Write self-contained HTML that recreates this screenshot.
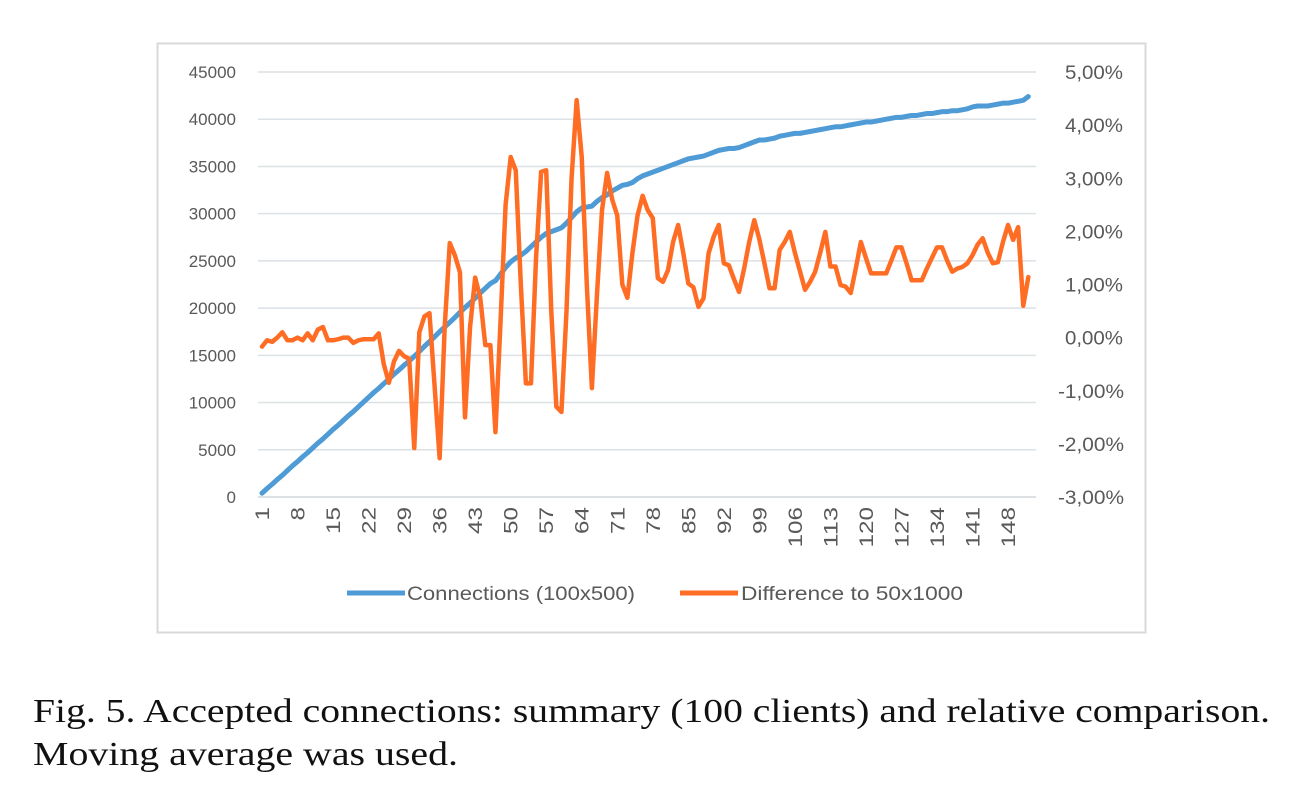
<!DOCTYPE html>
<html><head><meta charset="utf-8"><style>
body{margin:0;background:#fff;width:1298px;height:801px;overflow:hidden}
svg{display:block}
</style></head><body>
<svg width="1298" height="801" font-family="'Liberation Sans', sans-serif">
<rect x="157.5" y="43.5" width="988" height="589" fill="#fff" stroke="#d9d9d9" stroke-width="2"/>
<g id="grid"></g>
<g id="yl"></g>
<g id="yr"></g>
<g id="xl"></g>
<g id="series"></g>
<g>
<g>
<line x1="347" y1="593" x2="405" y2="593" stroke="#4e9bd6" stroke-width="5"/>
<text x="407" y="600" font-size="19" fill="#595959" textLength="228" lengthAdjust="spacingAndGlyphs">Connections (100x500)</text></g>
<g>
<line x1="680" y1="593" x2="738" y2="593" stroke="#ff6d24" stroke-width="5"/>
<text x="741" y="600" font-size="19" fill="#595959" textLength="222" lengthAdjust="spacingAndGlyphs">Difference to 50x1000</text></g>
</g>
<text x="33" y="722" font-family="'Liberation Serif', serif" font-size="34" fill="#111" textLength="1237" lengthAdjust="spacingAndGlyphs">Fig. 5.  Accepted connections: summary (100 clients) and relative comparison.</text>
<text x="33" y="765" font-family="'Liberation Serif', serif" font-size="34" fill="#111" textLength="425" lengthAdjust="spacingAndGlyphs">Moving average was used.</text>
</svg>
<script>
const connections=[400,900,1350,1850,2300,2800,3300,3750,4250,4700,
5200,5700,6150,6650,7150,7600,8100,8600,9050,9550,
10050,10550,11050,11500,12000,12500,13000,13450,13950,14400,
14900,15400,15950,16450,16950,17500,18000,18500,19000,19550,
20050,20550,21050,21600,22100,22600,22900,23600,24300,24900,
25300,25600,26000,26500,27000,27500,27900,28100,28300,28500,
29000,29600,30200,30600,30700,30800,31300,31700,32000,32400,
32700,33000,33100,33300,33700,34000,34200,34400,34600,34800,
35000,35200,35400,35600,35800,35900,36000,36100,36300,36500,
36700,36800,36900,36900,37000,37200,37400,37600,37800,37800,
37900,38000,38200,38300,38400,38500,38500,38600,38700,38800,
38900,39000,39100,39200,39200,39300,39400,39500,39600,39700,
39700,39800,39900,40000,40100,40200,40200,40300,40400,40400,
40500,40600,40600,40700,40800,40800,40900,40900,41000,41100,
41300,41400,41400,41400,41500,41600,41700,41700,41800,41900,
42000,42400];
const difference=[-0.17,-0.05,-0.08,0.0,0.1,-0.05,-0.05,0.0,-0.05,0.08,
-0.05,0.15,0.2,-0.05,-0.05,-0.03,0.0,0.0,-0.1,-0.05,
-0.03,-0.03,-0.03,0.08,-0.5,-0.85,-0.45,-0.25,-0.35,-0.4,
-2.08,0.1,0.4,0.46,-0.9,-2.27,0.2,1.78,1.55,1.23,
-1.5,0.2,1.13,0.75,-0.14,-0.14,-1.78,0.3,2.5,3.4,
3.15,1.0,-0.86,-0.86,1.5,3.12,3.15,0.5,-1.3,-1.4,
0.5,3.0,4.47,3.4,1.0,-0.95,0.8,2.4,3.1,2.6,
2.3,1.0,0.75,1.6,2.3,2.67,2.4,2.25,1.12,1.05,
1.27,1.8,2.12,1.6,1.02,0.95,0.58,0.74,1.59,1.9,
2.12,1.4,1.36,1.1,0.86,1.3,1.8,2.21,1.85,1.4,
0.93,0.93,1.65,1.8,1.99,1.6,1.25,0.9,1.05,1.24,
1.6,1.99,1.34,1.34,0.99,0.96,0.84,1.3,1.8,1.5,
1.21,1.21,1.21,1.21,1.45,1.7,1.7,1.4,1.08,1.08,
1.08,1.3,1.5,1.7,1.7,1.45,1.24,1.3,1.33,1.4,
1.55,1.75,1.87,1.6,1.4,1.42,1.8,2.12,1.84,2.08,
0.6,1.14];
const leftTicks=[0,5000,10000,15000,20000,25000,30000,35000,40000,45000];
const rightTickLabels=["-3,00%","-2,00%","-1,00%","0,00%","1,00%","2,00%","3,00%","4,00%","5,00%"];
const rightTicks=[-3,-2,-1,0,1,2,3,4,5];

const NS='http://www.w3.org/2000/svg';
const X0=262,DX=5.075,YTOP=72,YBOT=497;
const xS=i=>X0+i*DX;
const yL=v=>YBOT-(v/45000)*(YBOT-YTOP);
const yR=v=>YBOT-((v+3)/8)*(YBOT-YTOP);
function mk(tag,attrs,parent,txt){const e=document.createElementNS(NS,tag);for(const k in attrs)e.setAttribute(k,attrs[k]);if(txt!==undefined)e.textContent=txt;parent.appendChild(e);return e;}
const grid=document.getElementById('grid'),yl=document.getElementById('yl'),yr=document.getElementById('yr'),xl=document.getElementById('xl'),ser=document.getElementById('series');
leftTicks.forEach(t=>{
  const y=yL(t);
  const g=mk('line',{x1:258,x2:1036,y1:y,y2:y,stroke:t===0?'#d0d6da':'#dbe1e4','stroke-width':1.5},grid);
  
  
  const l=mk('text',{x:236,y:y+6,'text-anchor':'end','font-size':17,fill:'#595959'},yl,String(t));
  
  
});
rightTicks.forEach((t,k)=>{
  const s=rightTickLabels[k];
  const l=mk('text',{x:s[0]==='-'?1058:1065,y:yR(t)+7,'font-size':19,fill:'#595959',textLength:s[0]==='-'?66:58,lengthAdjust:'spacingAndGlyphs'},yr,s);
  
  
});
for(let i=0;i<connections.length;i+=7){
  const x=xS(i);
  const s=String(i+1);
  const l=mk('text',{x:0,y:0,transform:`translate(${x+7},507) rotate(-90)`,'text-anchor':'end','font-size':19,fill:'#595959',textLength:s.length*13.5,lengthAdjust:'spacingAndGlyphs'},xl,s);
  
  
}
const pb=mk('polyline',{points:connections.map((v,i)=>xS(i)+','+yL(v)).join(' '),fill:'none',stroke:'#4e9bd6','stroke-width':5,'stroke-linejoin':'round','stroke-linecap':'round'},ser);


const po=mk('polyline',{points:difference.map((v,i)=>xS(i)+','+yR(v)).join(' '),fill:'none',stroke:'#ff6d24','stroke-width':4.5,'stroke-linejoin':'round','stroke-linecap':'round'},ser);


</script>
</body></html>
